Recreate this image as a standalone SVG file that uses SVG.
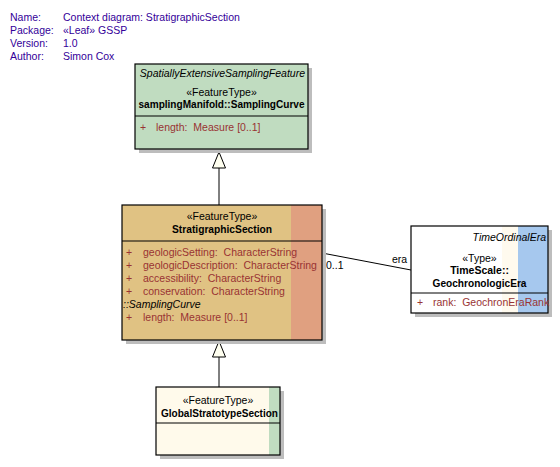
<svg xmlns="http://www.w3.org/2000/svg" width="560" height="467" viewBox="0 0 560 467">
<style>
text{font-family:"Liberation Sans",Arial,sans-serif;font-size:10.5px;fill:#000;white-space:pre}
.hdr{fill:#330099}
.b{font-weight:bold}
.i{font-style:italic}
.a{fill:#993333}
.box{stroke:#000;stroke-width:1.2}
.sh{fill:#bdbdbd}
.ln{stroke:#000;stroke-width:1;fill:none}
.c{text-anchor:middle}
.r{text-anchor:end}
</style>
<rect width="560" height="467" fill="#fff"/>
<g id="header">
<text class="hdr" x="10" y="21">Name:</text>
<text class="hdr" x="63" y="21">Context diagram: StratigraphicSection</text>
<text class="hdr" x="10" y="34">Package:</text>
<text class="hdr" x="63" y="34">«Leaf» GSSP</text>
<text class="hdr" x="10" y="47">Version:</text>
<text class="hdr" x="63" y="47">1.0</text>
<text class="hdr" x="10" y="60">Author:</text>
<text class="hdr" x="63" y="60">Simon Cox</text>
</g>
<g id="connectors">
<line class="ln" x1="219" y1="168" x2="219" y2="205"/>
<polygon points="219,152 212.5,168 225.5,168" fill="#fffff0" stroke="#000"/>
<line class="ln" x1="219" y1="357" x2="219" y2="387"/>
<polygon points="219,341 212.5,357 225.5,357" fill="#fffff0" stroke="#000"/>
<line class="ln" x1="322" y1="253" x2="411" y2="270"/>
<text x="326" y="269">0..1</text>
<text x="392" y="263">era</text>
</g>
<g id="SamplingCurve">
<rect class="sh" x="139" y="68" width="173" height="85"/>
<rect class="box" x="135" y="64" width="173" height="85" fill="#c0dcc0"/>
<line class="ln" x1="135" y1="116" x2="308" y2="116"/>
<text class="i r" x="305" y="77">SpatiallyExtensiveSamplingFeature</text>
<text class="c" x="221.5" y="96">«FeatureType»</text>
<text class="c b" x="221.5" y="108" textLength="166" lengthAdjust="spacingAndGlyphs">samplingManifold::SamplingCurve</text>
<text class="a" x="140" y="131">+</text>
<text class="a" x="156" y="131" xml:space="preserve">length:  Measure [0..1]</text>
</g>
<g id="StratigraphicSection">
<rect class="sh" x="126" y="209" width="200" height="135"/>
<rect x="122" y="205" width="200" height="135" fill="#e0c283"/>
<rect x="291" y="205" width="31" height="135" fill="#e0a080"/>
<rect class="box" x="122" y="205" width="200" height="135" fill="none"/>
<line class="ln" x1="122" y1="241" x2="322" y2="241"/>
<text class="c" x="222" y="220">«FeatureType»</text>
<text class="c b" x="222" y="233" textLength="100" lengthAdjust="spacingAndGlyphs">StratigraphicSection</text>
<text class="a" x="126" y="256">+</text>
<text class="a" x="143" y="256" xml:space="preserve">geologicSetting:  CharacterString</text>
<text class="a" x="126" y="269">+</text>
<text class="a" x="143" y="269" xml:space="preserve">geologicDescription:  CharacterString</text>
<text class="a" x="126" y="282">+</text>
<text class="a" x="143" y="282" xml:space="preserve">accessibility:  CharacterString</text>
<text class="a" x="126" y="295">+</text>
<text class="a" x="143" y="295" xml:space="preserve">conservation:  CharacterString</text>
<text class="i" x="123" y="308">::SamplingCurve</text>
<text class="a" x="126" y="321">+</text>
<text class="a" x="143" y="321" xml:space="preserve">length:  Measure [0..1]</text>
</g>
<g id="GeochronologicEra">
<rect class="sh" x="415" y="230" width="137" height="87"/>
<rect x="411" y="226" width="137" height="87" fill="#fff"/>
<rect x="502" y="226" width="16" height="87" fill="#fffaee"/>
<rect x="518" y="226" width="30" height="87" fill="#a6c8ee"/>
<rect class="box" x="411" y="226" width="137" height="87" fill="none"/>
<line class="ln" x1="411" y1="293" x2="548" y2="293"/>
<text class="i r" x="546" y="241">TimeOrdinalEra</text>
<text class="c" x="479.5" y="262">«Type»</text>
<text class="c b" x="479.5" y="274">TimeScale::</text>
<text class="c b" x="479.5" y="287" textLength="94" lengthAdjust="spacingAndGlyphs">GeochronologicEra</text>
<text class="a" x="417" y="306">+</text>
<text class="a" x="433" y="306" xml:space="preserve">rank:  GeochronEraRank</text>
</g>
<g id="GlobalStratotypeSection">
<rect class="sh" x="160" y="391" width="124" height="68"/>
<rect x="156" y="387" width="124" height="68" fill="#fffaeb"/>
<rect x="269" y="387" width="11" height="68" fill="#c0dcc0"/>
<rect class="box" x="156" y="387" width="124" height="68" fill="none"/>
<line class="ln" x1="156" y1="423" x2="280" y2="423"/>
<text class="c" x="218" y="404">«FeatureType»</text>
<text class="c b" x="219.5" y="417" textLength="117" lengthAdjust="spacingAndGlyphs">GlobalStratotypeSection</text>
</g>
</svg>
